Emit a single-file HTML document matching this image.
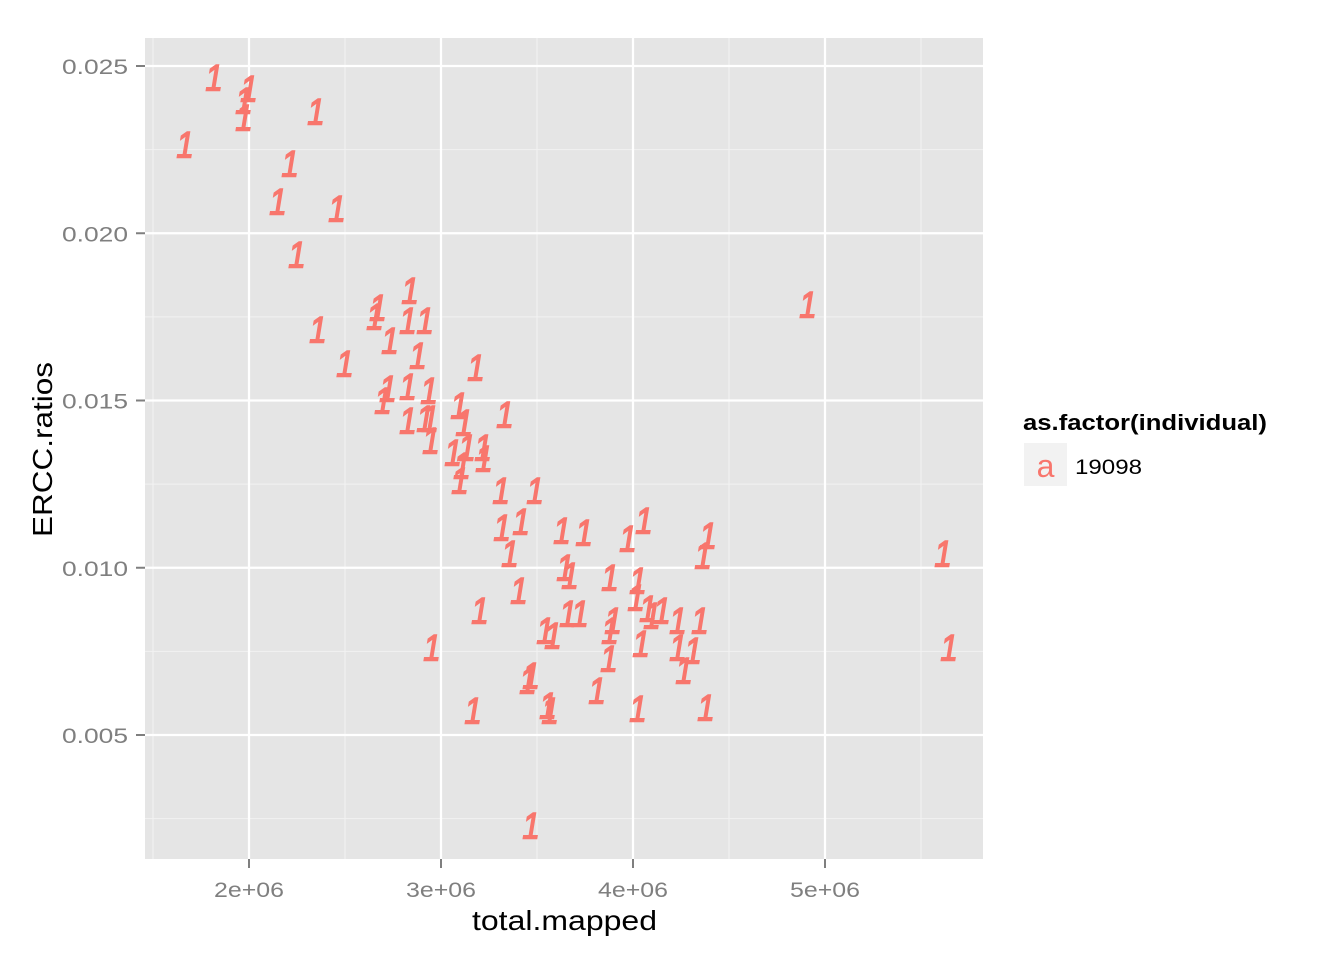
<!DOCTYPE html>
<html><head><meta charset="utf-8"><style>
html,body{margin:0;padding:0;background:#fff;}
svg{display:block;font-family:"Liberation Sans",Arial,sans-serif;}
</style></head><body>
<svg id="chart" width="1344" height="960" viewBox="0 0 1344 960">
<rect x="0" y="0" width="1344" height="960" fill="#fff"/>
<rect x="145" y="38" width="838" height="821" fill="#e5e5e5"/>
<g id="grid"></g>
<g id="points"></g>
<g id="axes"></g>
<text x="472" y="930" font-size="28" textLength="185" lengthAdjust="spacingAndGlyphs" fill="#000">total.mapped</text>
<text transform="translate(52,537) rotate(-90)" font-size="28" textLength="175" lengthAdjust="spacingAndGlyphs" fill="#000">ERCC.ratios</text>
<g>
<text x="1023" y="430" font-size="22" font-weight="bold" textLength="244" lengthAdjust="spacingAndGlyphs" fill="#000">as.factor(individual)</text>
<rect x="1024" y="443" width="43" height="43" fill="#f2f2f2"/>
<text x="1045.5" y="477" font-size="32" text-anchor="middle" fill="#f8766d">a</text>
<text x="1075" y="474" font-size="21" textLength="67" lengthAdjust="spacingAndGlyphs" fill="#000">19098</text>
</g>
</svg>
<script>
const xValues = [1.818,2.000,1.974,1.974,2.349,1.667,2.214,2.151,2.458,2.250,2.839,2.672,2.656,2.828,2.917,2.359,2.734,2.880,3.182,2.500,2.724,2.828,2.938,2.698,3.094,3.333,2.828,2.917,2.943,3.120,2.948,3.063,3.135,3.219,3.109,3.224,3.099,3.313,3.490,3.318,3.417,3.630,3.745,3.974,4.057,4.391,3.359,4.365,3.646,3.672,3.880,4.026,4.911,5.615,3.406,4.016,3.203,3.661,3.724,3.896,4.078,4.099,4.151,4.234,4.349,3.542,3.583,3.880,4.042,4.234,4.313,2.953,3.875,5.646,4.266,3.453,3.469,3.813,3.557,3.568,3.167,4.026,4.380,3.469];
const yValues = [0.02467,0.02434,0.02398,0.02348,0.02365,0.02267,0.02210,0.02096,0.02075,0.01938,0.01830,0.01779,0.01753,0.01741,0.01741,0.01714,0.01681,0.01636,0.01600,0.01612,0.01537,0.01543,0.01531,0.01501,0.01486,0.01460,0.01442,0.01448,0.01448,0.01436,0.01382,0.01346,0.01361,0.01361,0.01307,0.01328,0.01262,0.01232,0.01232,0.01122,0.01140,0.01113,0.01107,0.01089,0.01143,0.01098,0.01044,0.01038,0.01002,0.00978,0.00972,0.00963,0.01788,0.01044,0.00933,0.00912,0.00873,0.00864,0.00864,0.00844,0.00879,0.00858,0.00873,0.00844,0.00844,0.00814,0.00799,0.00814,0.00775,0.00763,0.00754,0.00763,0.00730,0.00763,0.00694,0.00664,0.00679,0.00634,0.00589,0.00574,0.00574,0.00580,0.00583,0.00231];
const xTicks = [2,3,4,5];
const xTickLabels = ["2e+06","3e+06","4e+06","5e+06"];
const xMinor = [1.5,2.5,3.5,4.5,5.5];
const yTicks = [0.005,0.010,0.015,0.020,0.025];
const yTickLabels = ["0.005","0.010","0.015","0.020","0.025"];
const yMinor = [0.0025,0.0075,0.0125,0.0175,0.0225];

const NS = "http://www.w3.org/2000/svg";
const X0 = 145, X1 = 983, Y0 = 38, Y1 = 859;
function xs(v){ return 249 + (v - 2) * 192; }
function ys(v){ return 66 + (0.025 - v) / 0.005 * 167.25; }
function mk(tag, attrs, parent){
  const e = document.createElementNS(NS, tag);
  for (const k in attrs) e.setAttribute(k, attrs[k]);
  parent.appendChild(e);
  return e;
}
const grid = document.getElementById('grid');
const axes = document.getElementById('axes');
const pts = document.getElementById('points');
xMinor.forEach(v => {
  const l = mk('line', {x1: xs(v), x2: xs(v), y1: Y0, y2: Y1, stroke: '#f2f2f2', 'stroke-width': 1}, grid);
  
  
});
yMinor.forEach(v => {
  const l = mk('line', {x1: X0, x2: X1, y1: ys(v), y2: ys(v), stroke: '#f2f2f2', 'stroke-width': 1}, grid);
  
  
});
xTicks.forEach((v, i) => {
  const l = mk('line', {x1: xs(v), x2: xs(v), y1: Y0, y2: Y1, stroke: '#fff', 'stroke-width': 2.2}, grid);
  
  
  const t = mk('line', {x1: xs(v), x2: xs(v), y1: Y1, y2: Y1 + 9, stroke: '#7f7f7f', 'stroke-width': 2}, axes);
  
  
  const tx = mk('text', {x: xs(v) - 35, y: 897, 'font-size': 21, textLength: 70, lengthAdjust: 'spacingAndGlyphs', fill: '#7f7f7f'}, axes);
  tx.textContent = xTickLabels[i];
  
  
});
yTicks.forEach((v, i) => {
  const l = mk('line', {x1: X0, x2: X1, y1: ys(v), y2: ys(v), stroke: '#fff', 'stroke-width': 2.2}, grid);
  
  
  const t = mk('line', {x1: X0 - 9, x2: X0, y1: ys(v), y2: ys(v), stroke: '#7f7f7f', 'stroke-width': 2}, axes);
  
  
  const tx = mk('text', {x: 62, y: ys(v) + 8, 'font-size': 21, textLength: 66, lengthAdjust: 'spacingAndGlyphs', fill: '#7f7f7f'}, axes);
  tx.textContent = yTickLabels[i];
  
  
});
xValues.forEach((v, i) => {
  const cx = xs(v), cy = ys(yValues[i]);
  const t = mk('text', {x: 0, y: 12, transform: 'translate(' + cx + ',' + cy + ') scale(0.95,1.12)', 'font-size': 33, 'font-style': 'italic', 'text-anchor': 'middle', fill: '#f8766d', stroke: '#f8766d', 'stroke-width': 1.3}, pts);
  t.textContent = '1';
  
  
});
</script>
</body></html>
